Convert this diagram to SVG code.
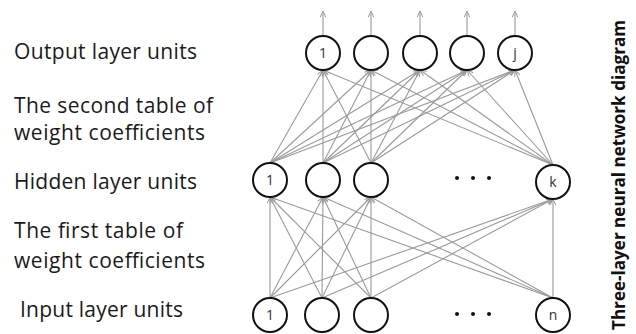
<svg xmlns="http://www.w3.org/2000/svg" width="636" height="334" viewBox="0 0 636 334">
<style>
.lbl{font-family:"Open Sans","Liberation Sans",sans-serif;font-size:21px;fill:#1a1a1a}
.title{font-family:"Open Sans","Liberation Sans",sans-serif;font-size:17.5px;font-weight:bold;fill:#111}
.unit{fill:#fff;stroke:#111;stroke-width:2}
.num{font-family:"Open Sans","Liberation Sans",sans-serif;font-size:14px;fill:#333;text-anchor:middle}
.c line{stroke:#9a9a9a;stroke-width:1.1;marker-end:url(#ah)}
.dot{fill:#111}
</style>
<defs>
<marker id="ah" viewBox="0 0 10 10" refX="10" refY="5" markerWidth="7" markerHeight="7" orient="auto" markerUnits="userSpaceOnUse">
<path d="M1,1 L10,5 L1,9" fill="none" stroke="#9a9a9a" stroke-width="1.4"/>
</marker>
</defs>
<rect width="636" height="334" fill="#fff"/>
<g id="labels">
<text class="lbl" x="14" y="59" textLength="183">Output layer units</text>
<text class="lbl" x="14" y="113" textLength="199">The second table of</text>
<text class="lbl" x="14" y="140" textLength="191">weight coefficients</text>
<text class="lbl" x="14" y="189" textLength="183">Hidden layer units</text>
<text class="lbl" x="14" y="238" textLength="169">The first table of</text>
<text class="lbl" x="14" y="268" textLength="191">weight coefficients</text>
<text class="lbl" x="20" y="317" textLength="163">Input layer units</text>
<text class="title" transform="translate(625,330) rotate(-90)" x="0" y="0" textLength="310" lengthAdjust="spacingAndGlyphs">Three-layer neural network diagram</text>
</g>
<g id="connectors" class="c">
<line x1="323" y1="35" x2="323" y2="11"/>
<line x1="371" y1="35" x2="371" y2="11"/>
<line x1="420" y1="35" x2="420" y2="11"/>
<line x1="467" y1="35" x2="467" y2="11"/>
<line x1="515" y1="35" x2="515" y2="11"/>
<line x1="270" y1="163" x2="323" y2="70"/>
<line x1="270" y1="163" x2="371" y2="70"/>
<line x1="270" y1="163" x2="420" y2="70"/>
<line x1="270" y1="163" x2="467" y2="70"/>
<line x1="270" y1="163" x2="515" y2="70"/>
<line x1="323" y1="163" x2="323" y2="70"/>
<line x1="323" y1="163" x2="371" y2="70"/>
<line x1="323" y1="163" x2="420" y2="70"/>
<line x1="323" y1="163" x2="467" y2="70"/>
<line x1="323" y1="163" x2="515" y2="70"/>
<line x1="371" y1="163" x2="323" y2="70"/>
<line x1="371" y1="163" x2="371" y2="70"/>
<line x1="371" y1="163" x2="420" y2="70"/>
<line x1="371" y1="163" x2="467" y2="70"/>
<line x1="371" y1="163" x2="515" y2="70"/>
<line x1="553" y1="165" x2="323" y2="70"/>
<line x1="553" y1="165" x2="371" y2="70"/>
<line x1="553" y1="165" x2="420" y2="70"/>
<line x1="553" y1="165" x2="467" y2="70"/>
<line x1="553" y1="165" x2="515" y2="70"/>
<line x1="270" y1="298" x2="270" y2="197"/>
<line x1="270" y1="298" x2="323" y2="197"/>
<line x1="270" y1="298" x2="371" y2="197"/>
<line x1="270" y1="298" x2="553" y2="199"/>
<line x1="322" y1="298" x2="270" y2="197"/>
<line x1="322" y1="298" x2="323" y2="197"/>
<line x1="322" y1="298" x2="371" y2="197"/>
<line x1="322" y1="298" x2="553" y2="199"/>
<line x1="371" y1="298" x2="270" y2="197"/>
<line x1="371" y1="298" x2="323" y2="197"/>
<line x1="371" y1="298" x2="371" y2="197"/>
<line x1="371" y1="298" x2="553" y2="199"/>
<line x1="553" y1="298" x2="270" y2="197"/>
<line x1="553" y1="298" x2="323" y2="197"/>
<line x1="553" y1="298" x2="371" y2="197"/>
<line x1="553" y1="298" x2="553" y2="199"/>
</g>
<g id="out1"><circle class="unit" cx="323" cy="53" r="17"/><text class="num" x="323" y="58">1</text></g>
<g id="out2"><circle class="unit" cx="371" cy="53" r="17"/></g>
<g id="out3"><circle class="unit" cx="420" cy="53" r="17"/></g>
<g id="out4"><circle class="unit" cx="467" cy="53" r="17"/></g>
<g id="outj"><circle class="unit" cx="515" cy="53" r="17"/><text class="num" x="515" y="58">j</text></g>
<g id="hid1"><circle class="unit" cx="270" cy="180" r="17"/><text class="num" x="270" y="185">1</text></g>
<g id="hid2"><circle class="unit" cx="323" cy="180" r="17"/></g>
<g id="hid3"><circle class="unit" cx="371" cy="180" r="17"/></g>
<g id="hiddots"><circle class="dot" cx="457" cy="178" r="2"/><circle class="dot" cx="473" cy="178" r="2"/><circle class="dot" cx="489" cy="178" r="2"/></g>
<g id="hidk"><circle class="unit" cx="553" cy="182" r="17"/><text class="num" x="553" y="187">k</text></g>
<g id="in1"><circle class="unit" cx="270" cy="315" r="17"/><text class="num" x="270" y="320">1</text></g>
<g id="in2"><circle class="unit" cx="322" cy="315" r="17"/></g>
<g id="in3"><circle class="unit" cx="371" cy="315" r="17"/></g>
<g id="indots"><circle class="dot" cx="457" cy="314" r="2"/><circle class="dot" cx="473" cy="314" r="2"/><circle class="dot" cx="489" cy="314" r="2"/></g>
<g id="inn"><circle class="unit" cx="553" cy="315" r="17"/><text class="num" x="553" y="320">n</text></g>
</svg>
